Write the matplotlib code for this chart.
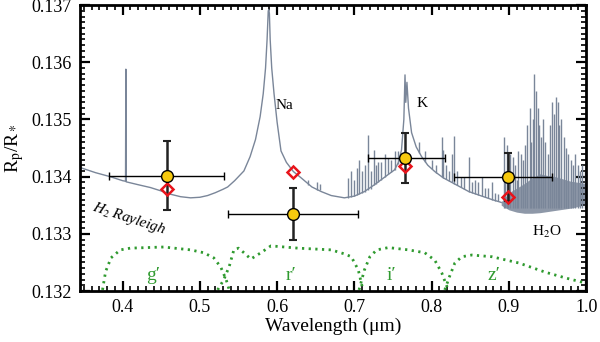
import numpy as np
import matplotlib
matplotlib.use("Agg")
import matplotlib.pyplot as plt
from matplotlib.ticker import MultipleLocator, FormatStrFormatter

plt.rcParams['font.family'] = ['Liberation Serif', 'DejaVu Serif']
plt.rcParams['mathtext.fontset'] = 'stix'

# ==============================================================================
# MODEL SPECTRUM (continuum)
# ==============================================================================
cont_wl = [0.345, 0.365, 0.384, 0.400, 0.4038, 0.4042, 0.4046, 0.420, 0.436, 0.450,
           0.460, 0.475, 0.488, 0.500, 0.510, 0.520, 0.530, 0.536, 0.545, 0.557,
           0.565, 0.572, 0.578, 0.582, 0.585, 0.587, 0.5885, 0.5893, 0.590, 0.591,
           0.593, 0.596, 0.600, 0.605, 0.612, 0.621, 0.631, 0.645, 0.657, 0.670,
           0.687, 0.700, 0.713, 0.725, 0.735, 0.745, 0.752, 0.757, 0.761, 0.764,
           0.7655, 0.7665, 0.768, 0.770, 0.774, 0.780, 0.787, 0.795, 0.804, 0.815,
           0.826, 0.848, 0.865, 0.878, 0.890]
cont_rp = [0.13416, 0.13407, 0.13400, 0.13393, 0.13392, 0.13588, 0.13391, 0.13386, 0.13381, 0.13375,
           0.13370, 0.13365, 0.13363, 0.13364, 0.13367, 0.13372, 0.13378, 0.13382, 0.13393, 0.13410,
           0.13435, 0.13465, 0.13505, 0.13545, 0.13590, 0.13640, 0.13690, 0.13692, 0.13685, 0.13640,
           0.13590, 0.13545, 0.13495, 0.13445, 0.13425, 0.13409, 0.13398, 0.13382, 0.13374, 0.13367,
           0.13363, 0.13366, 0.13374, 0.13385, 0.13395, 0.13405, 0.13412, 0.13425, 0.13447, 0.13500,
           0.13578, 0.13530, 0.13565, 0.13520, 0.13477, 0.13452, 0.13435, 0.13420, 0.13409, 0.13398,
           0.13390, 0.13374, 0.13366, 0.13360, 0.13355]

# narrow absorption lines sticking out of the continuum
spike_wl = [0.640, 0.652, 0.655, 0.692, 0.695, 0.700, 0.703, 0.706, 0.710, 0.714,
            0.718, 0.721, 0.725, 0.728, 0.731, 0.735, 0.739, 0.744, 0.748, 0.752,
            0.756, 0.783, 0.792, 0.800, 0.806, 0.813, 0.815, 0.818, 0.822, 0.826,
            0.829, 0.833, 0.838, 0.842, 0.848, 0.852, 0.856, 0.860, 0.865, 0.869,
            0.873, 0.878, 0.882, 0.886]
spike_base = [0.13385, 0.13377, 0.13376, 0.13363, 0.13364, 0.13366, 0.13368, 0.13369, 0.13371, 0.13374,
              0.13376, 0.13379, 0.13385, 0.13388, 0.13391, 0.13395, 0.13400, 0.13405, 0.13408, 0.13412,
              0.13422, 0.13442, 0.13425, 0.13413, 0.13407, 0.13400, 0.13398, 0.13396, 0.13393, 0.13390,
              0.13388, 0.13385, 0.13382, 0.13379, 0.13374, 0.13372, 0.13370, 0.13368, 0.13366, 0.13364,
              0.13362, 0.13360, 0.13358, 0.13357]
spike_top = [0.13395, 0.13390, 0.13388, 0.13398, 0.13410, 0.13395, 0.13415, 0.13430, 0.13410, 0.13420,
             0.13473, 0.13410, 0.13447, 0.13420, 0.13426, 0.13425, 0.13440, 0.13433, 0.13430, 0.13445,
             0.13445, 0.13460, 0.13445, 0.13430, 0.13420, 0.13470, 0.13447, 0.13420, 0.13410, 0.13440,
             0.13472, 0.13410, 0.13400, 0.13400, 0.13435, 0.13390, 0.13395, 0.13390, 0.13400, 0.13380,
             0.13380, 0.13390, 0.13372, 0.13370]

# H2O band: dense part plus the tallest lines
band_wl = [0.890, 0.900, 0.910, 0.920, 0.930, 0.940, 0.950, 0.960, 0.970, 0.980, 0.990, 1.000]
band_lo = [0.13350, 0.13342, 0.13338, 0.13336, 0.13336, 0.13337, 0.13339, 0.13341, 0.13343, 0.13345, 0.13348, 0.13352]
band_hi = [0.13356, 0.13372, 0.13380, 0.13388, 0.13398, 0.13405, 0.13402, 0.13400, 0.13396, 0.13392, 0.13390, 0.13388]
h2o_wl = [0.893, 0.895, 0.897, 0.899, 0.902, 0.905, 0.908, 0.910, 0.912, 0.915,
          0.918, 0.921, 0.924, 0.927, 0.929, 0.931, 0.933, 0.935, 0.937, 0.939,
          0.941, 0.944, 0.947, 0.950, 0.953, 0.956, 0.958, 0.961, 0.963, 0.965,
          0.968, 0.971, 0.974, 0.977, 0.980, 0.983, 0.986, 0.989, 0.992, 0.995, 0.998]
h2o_top = [0.13470, 0.13400, 0.13455, 0.13430, 0.13440, 0.13435, 0.13420, 0.13395, 0.13445, 0.13440,
           0.13430, 0.13455, 0.13490, 0.13520, 0.13460, 0.13500, 0.13580, 0.13550, 0.13520, 0.13490,
           0.13470, 0.13500, 0.13460, 0.13440, 0.13490, 0.13530, 0.13510, 0.13540, 0.13530, 0.13490,
           0.13500, 0.13470, 0.13450, 0.13440, 0.13430, 0.13420, 0.13440, 0.13420, 0.13410, 0.13420, 0.13410]

# ==============================================================================
# MEASURED RADII AND BINNED MODEL
# ==============================================================================
obs_wl = [0.458, 0.621, 0.765, 0.899]
obs_lo = [0.383, 0.536, 0.717, 0.829]
obs_hi = [0.531, 0.705, 0.817, 0.956]
obs_rp = [0.13402, 0.13335, 0.13433, 0.13400]
obs_err = [0.00061, 0.00045, 0.00044, 0.00042]
model_rp = [0.13379, 0.13409, 0.13418, 0.13365]

# ==============================================================================
# FILTER TRANSMISSION CURVES (in plot units)
# ==============================================================================
g_wl = [0.374, 0.378, 0.385, 0.397, 0.410, 0.453, 0.488, 0.505, 0.518, 0.527, 0.534, 0.538]
g_rp = [0.13202, 0.13234, 0.13258, 0.13272, 0.13275, 0.13277, 0.13272, 0.13267, 0.13258, 0.13242, 0.13220, 0.13202]
r_wl = [0.523, 0.531, 0.538, 0.544, 0.550, 0.557, 0.566, 0.579, 0.592, 0.627, 0.670, 0.687, 0.696, 0.705, 0.709, 0.711]
r_rp = [0.13202, 0.13220, 0.13243, 0.13272, 0.13275, 0.13267, 0.13256, 0.13267, 0.13279, 0.13275, 0.13272, 0.13265, 0.13260, 0.13237, 0.13214, 0.13202]
i_wl = [0.706, 0.713, 0.720, 0.729, 0.744, 0.770, 0.791, 0.804, 0.813, 0.820, 0.822]
i_rp = [0.13202, 0.13237, 0.13260, 0.13272, 0.13276, 0.13272, 0.13267, 0.13254, 0.13232, 0.13207, 0.13202]
z_wl = [0.817, 0.823, 0.830, 0.839, 0.852, 0.878, 0.913, 0.947, 0.973, 0.999]
z_rp = [0.13202, 0.13225, 0.13249, 0.13260, 0.13263, 0.13260, 0.13249, 0.13233, 0.13223, 0.13214]

filter_names = ["g\u2032", "r\u2032", "i\u2032", "z\u2032"]
filter_lab_wl = [0.439, 0.618, 0.748, 0.880]

model_col = '#7a8699'
green = '#2f9a2f'

fig = plt.figure(figsize=(6, 3.42), dpi=100)
ax = fig.add_axes([0.1335, 0.149, 0.8435, 0.836])

# model
ax.fill_between(band_wl, band_lo, band_hi, color=model_col, lw=0, alpha=0.85)
ax.vlines(h2o_wl, 0.13345, h2o_top, color=model_col, lw=1.0)
ax.vlines(spike_wl, spike_base, spike_top, color=model_col, lw=1.0)
ax.plot(cont_wl, cont_rp, color=model_col, lw=1.0)

# filters
for fx, fy in [(g_wl, g_rp), (r_wl, r_rp), (i_wl, i_rp), (z_wl, z_rp)]:
    ax.plot(fx, fy, color=green, lw=2.0, ls=(0, (0.8, 1.6)))
for name, wl in zip(filter_names, filter_lab_wl):
    ax.text(wl, 0.13227, name, color=green, fontsize=14, ha='center', va='center')

# data
obs_wl_a = np.array(obs_wl)
xerr = [obs_wl_a - np.array(obs_lo), np.array(obs_hi) - obs_wl_a]
ax.errorbar(obs_wl, obs_rp, xerr=xerr, fmt='none', ecolor='black', elinewidth=1.0, capsize=3, capthick=1.0, zorder=4)
ax.errorbar(obs_wl, obs_rp, yerr=obs_err, fmt='none', ecolor='#222222', elinewidth=1.8, capsize=3, capthick=1.5, zorder=4)
ax.plot(obs_wl, model_rp, 'D', ms=6.5, mfc='none', mec='#e8141b', mew=1.8, zorder=5)
ax.plot(obs_wl, obs_rp, 'o', ms=8.5, mfc='#f6c90e', mec='black', mew=1.0, zorder=6)

# labels
ax.text(0.609, 0.13525, 'Na', fontsize=11, ha='center', va='center')
ax.text(0.788, 0.13528, 'K', fontsize=11, ha='center', va='center')
ax.text(0.949, 0.13304, r'H$_2$O', fontsize=11, ha='center', va='center')
ax.text(0.408, 0.13326, r'$H_2$ Rayleigh', fontsize=11, style='italic', rotation=-18,
        ha='center', va='center')

ax.set_xlim(0.345, 1.0)
ax.set_ylim(0.132, 0.137)
ax.xaxis.set_major_locator(MultipleLocator(0.1))
ax.xaxis.set_minor_locator(MultipleLocator(0.01))
ax.yaxis.set_major_locator(MultipleLocator(0.001))
ax.yaxis.set_minor_locator(MultipleLocator(0.0001))
ax.xaxis.set_major_formatter(FormatStrFormatter('%.1f'))
ax.yaxis.set_major_formatter(FormatStrFormatter('%.3f'))
ax.tick_params(which='both', direction='in', top=True, right=True, labelsize=13)
ax.tick_params(which='major', length=7, width=1.6, pad=6)
ax.tick_params(which='minor', length=3.5, width=1.2)
for s in ax.spines.values():
    s.set_linewidth(2.0)

ax.set_xlabel('Wavelength (\u03bcm)', fontsize=14, labelpad=1)
ax.set_ylabel(r'R$_{\rm p}$/R$_*$', fontsize=14, labelpad=4)

fig.savefig('out.png', dpi=100)
